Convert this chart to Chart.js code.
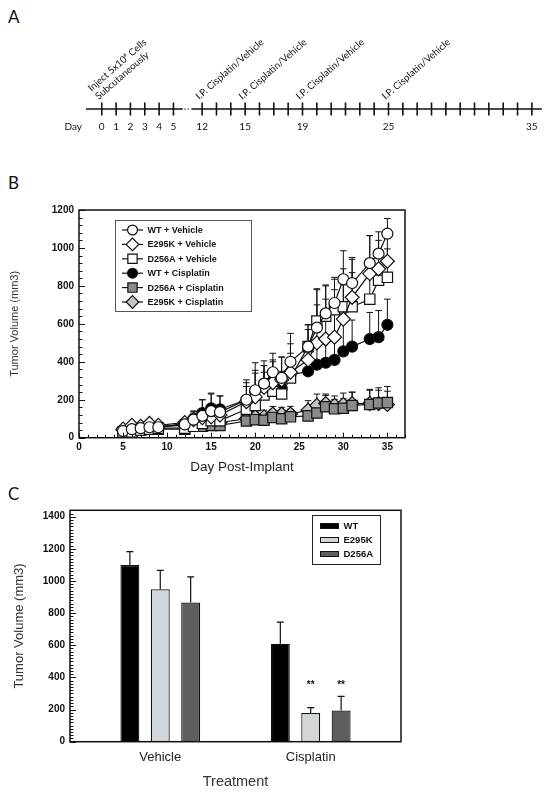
<!DOCTYPE html>
<html>
<head>
<meta charset="utf-8">
<script src="https://cdn.jsdelivr.net/npm/chart.js@4.4.1/dist/chart.umd.min.js"></script>
<style>
  html, body { margin: 0; padding: 0; background: #fff; }
  #page { position: relative; width: 550px; height: 793px; overflow: hidden; }
  .letter { position: absolute; font-family: Lato, sans-serif; font-size: 17px; line-height: 17px; color: #111; }
  canvas { position: absolute; }
</style>
</head>
<body>
<div id="page">
  <div class="letter" style="left:8px;top:8px">A</div>
  <canvas id="chartA" width="550" height="150" style="left:0;top:0"></canvas>
  <div class="letter" style="left:8px;top:174px">B</div>
  <canvas id="chartB" width="420" height="320" style="left:0;top:170px"></canvas>
  <div class="letter" style="left:8px;top:485px">C</div>
  <canvas id="chartC" width="430" height="298" style="left:0;top:495px"></canvas>
</div>
<script>
// ---- panel A: schedule ----
const timelineDays = [0, 1, 2, 3, 4, 5, 12, 13, 14, 15, 16, 17, 18, 19, 20, 21, 22, 23, 24, 25,
  26, 27, 28, 29, 30, 31, 32, 33, 34, 35];
const labeledDays = [0, 1, 2, 3, 4, 5, 12, 15, 19, 25, 35];
const eventDays = [0, 12, 15, 19, 25];
const eventText = [
  ['Inject 5x10⁶ Cells', 'Subcutaneously'],
  ['I.P. Cisplatin/Vehicle'],
  ['I.P. Cisplatin/Vehicle'],
  ['I.P. Cisplatin/Vehicle'],
  ['I.P. Cisplatin/Vehicle']
];

// ---- panel B: growth curves ----
const days = [5, 6, 7, 8, 9, 12, 13, 14, 15, 16, 19, 20, 21, 22, 23, 24, 26, 27, 28, 29, 30, 31, 33, 34, 35];
const wtVehicle = [35, 45, 50, 55, 55, 70, 95, 115, 140, 135, 200, 250, 285, 345, 315, 400, 480, 580, 655, 710, 835, 815, 920, 970, 1075];
const wtVehicleErr = [10, 10, 10, 10, 10, 30, 45, 85, 95, 85, 105, 145, 120, 100, 110, 150, 115, 200, 150, 125, 150, 135, 145, 115, 80];
const e295kVehicle = [45, 65, 60, 75, 65, 80, 95, 105, 110, 120, 190, 215, 265, 290, 305, 345, 410, 500, 520, 530, 625, 740, 865, 890, 930];
const e295kVehicleErr = [10, 10, 10, 10, 10, 20, 35, 40, 45, 45, 80, 125, 115, 110, 120, 150, 160, 200, 210, 250, 180, 200, 200, 150, 120];
const d256aVehicle = [30, 30, 40, 45, 50, 50, 60, 75, 90, 90, 150, 170, 225, 245, 230, 315, 480, 615, 640, 675, 690, 690, 730, 830, 845];
const d256aVehicleErr = [10, 10, 10, 10, 10, 20, 25, 30, 40, 40, 60, 70, 120, 100, 90, 130, 115, 170, 160, 170, 200, 180, 180, 160, 150];
const wtCisplatin = [35, 45, 50, 50, 55, 75, 100, 130, 155, 150, 200, 245, 280, 300, 260, 330, 350, 385, 395, 410, 455, 480, 520, 530, 595];
const wtCisplatinErr = [10, 10, 10, 10, 10, 25, 40, 70, 75, 70, 90, 110, 100, 110, 90, 80, 110, 130, 140, 120, 200, 140, 140, 140, 135];
const d256aCisplatin = [30, 35, 40, 45, 45, 45, 60, 60, 65, 65, 88, 95, 92, 107, 100, 110, 115, 130, 163, 152, 155, 170, 175, 183, 185];
const d256aCisplatinErr = [10, 10, 10, 10, 10, 15, 15, 20, 20, 20, 30, 40, 35, 40, 35, 40, 40, 50, 60, 50, 50, 70, 80, 80, 85];
const e295kCisplatin = [40, 55, 55, 65, 60, 65, 70, 75, 75, 80, 100, 110, 110, 125, 125, 125, 145, 170, 180, 170, 175, 180, 180, 180, 175];
const e295kCisplatinErr = [10, 10, 10, 10, 10, 15, 15, 20, 20, 20, 30, 30, 35, 40, 35, 40, 50, 60, 50, 50, 60, 60, 70, 70, 70];

// ---- panel C: day 35 volumes ----
const treatments = ['Vehicle', 'Cisplatin'];
const barWT = [1100, 610];
const barWTErr = [83, 134];
const barE295K = [948, 179];
const barE295KErr = [118, 33];
const barD256A = [866, 194];
const barD256AErr = [160, 88];
const sigE295K = ['', '**'];
const sigD256A = ['', '**'];

Chart.defaults.font.family = '"Liberation Sans", Arial, sans-serif';
Chart.defaults.color = '#111';
Chart.defaults.animation = false;

// days 0-5 then break, 12 onward
function dayIndex(d) { return d <= 5 ? d : d - 5; }

const timeline = {
  id: 'timeline',
  beforeDatasetsDraw(chart) {
    const { ctx, chartArea: a, scales: { x } } = chart;
    const y0 = a.bottom;
    ctx.save();
    ctx.strokeStyle = '#111';
    ctx.lineWidth = 1.7;
    ctx.beginPath();
    ctx.moveTo(a.left, y0);
    ctx.lineTo(x.getPixelForValue(5.65), y0);
    ctx.moveTo(x.getPixelForValue(6.25), y0);
    ctx.lineTo(a.right, y0);
    ctx.stroke();
    ctx.fillStyle = '#333';
    [5.8, 6.02].forEach(v => ctx.fillRect(x.getPixelForValue(v) - 0.6, y0 - 0.6, 1.3, 1.3));
    ctx.restore();
  },
  afterDraw(chart) {
    const { ctx, chartArea: a, scales: { x } } = chart;
    ctx.save();
    ctx.fillStyle = '#111';
    ctx.font = '10px Lato';
    ctx.textAlign = 'right';
    ctx.textBaseline = 'middle';
    ctx.fillText('Day', 82, a.bottom + 18);
    ctx.font = '9.7px Lato';
    ctx.textAlign = 'left';
    ctx.textBaseline = 'alphabetic';
    eventDays.forEach((d, i) => {
      const px = x.getPixelForValue(dayIndex(d));
      ctx.save();
      ctx.translate(px - 3, a.bottom - 9);
      ctx.rotate(-41 * Math.PI / 180);
      const lines = eventText[i];
      lines.forEach((t, j) => ctx.fillText(t, 0, -(lines.length - 1 - j) * 11));
      ctx.restore();
    });
    ctx.restore();
  }
};

new Chart(document.getElementById('chartA'), {
  type: 'scatter',
  data: {
    datasets: [{
      data: timelineDays.map(d => ({ x: dayIndex(d), y: 0 })),
      pointStyle: 'line',
      rotation: 90,
      pointRadius: 6.5,
      pointBorderWidth: 1.6,
      pointBorderColor: '#111',
      clip: false
    }]
  },
  options: {
    responsive: false,
    layout: { padding: { left: 86, right: 6, top: 0, bottom: 0 } },
    plugins: { legend: { display: false }, tooltip: { enabled: false } },
    scales: {
      x: {
        type: 'linear', min: -1.1, max: 30.7,
        afterFit: s => { s.height = 41; },
        afterBuildTicks: s => { s.ticks = labeledDays.map(d => ({ value: dayIndex(d) })); },
        grid: { display: false, drawTicks: false },
        border: { display: false },
        ticks: {
          padding: 12, autoSkip: false, maxRotation: 0, color: '#111',
          font: { family: 'Lato', size: 10 },
          callback: v => (v <= 5 ? v : v + 5)
        }
      },
      y: { display: false, min: 0, max: 1 }
    }
  },
  plugins: [timeline]
});

// frame with inward tick marks
const frameTicks = {
  id: 'frameTicks',
  afterDraw(chart, args, opts) {
    const { ctx, chartArea: a, scales: { x, y } } = chart;
    ctx.save();
    ctx.strokeStyle = '#111';
    ctx.lineWidth = 1;
    ctx.beginPath();
    if (opts.xMinor) {
      const n = Math.round((x.max - x.min) / opts.xMinor);
      for (let i = 0; i <= n; i++) {
        const v = x.min + i * opts.xMinor;
        const px = Math.round(x.getPixelForValue(v)) + 0.5;
        const len = (Math.round(v) % opts.xMajor === 0) ? 5 : 3;
        ctx.moveTo(px, a.bottom);
        ctx.lineTo(px, a.bottom - len);
      }
    }
    const m = Math.floor((y.max - y.min) / opts.yMinor);
    for (let i = 0; i <= m; i++) {
      const v = y.min + i * opts.yMinor;
      const py = Math.round(y.getPixelForValue(v)) + 0.5;
      const len = (v % opts.yMajor === 0) ? 6 : 3.5;
      ctx.moveTo(a.left, py);
      ctx.lineTo(a.left + len, py);
    }
    ctx.stroke();
    ctx.lineWidth = 1.5;
    ctx.strokeRect(a.left, a.top, a.right - a.left, a.bottom - a.top);
    ctx.restore();
  }
};

// upward error bars with caps
const errorBars = {
  id: 'errorBars',
  draw(chart, opts) {
    const { ctx, scales: { y } } = chart;
    ctx.save();
    ctx.strokeStyle = '#111';
    ctx.lineWidth = opts.width;
    chart.data.datasets.forEach((ds, di) => {
      const meta = chart.getDatasetMeta(di);
      meta.data.forEach((el, i) => {
        const top = y.getPixelForValue(ds.data[i].y + ds.err[i]);
        ctx.beginPath();
        ctx.moveTo(el.x, el.y);
        ctx.lineTo(el.x, top);
        ctx.moveTo(el.x - opts.cap, top);
        ctx.lineTo(el.x + opts.cap, top);
        ctx.stroke();
        if (ds.sig && ds.sig[i]) {
          ctx.fillStyle = '#111';
          ctx.font = 'bold 10px "Liberation Sans"';
          ctx.textAlign = 'center';
          ctx.textBaseline = 'middle';
          ctx.fillText(ds.sig[i], el.x, y.getPixelForValue(opts.sigAt));
        }
      });
    });
    ctx.restore();
  },
  beforeDatasetsDraw(chart, args, opts) { if (!opts.front) this.draw(chart, opts); },
  afterDatasetsDraw(chart, args, opts) { if (opts.front) this.draw(chart, opts); }
};

const seriesB = [
  { label: 'WT + Vehicle', values: wtVehicle, err: wtVehicleErr, style: 'circle', r: 5.5, fill: '#fff' },
  { label: 'E295K + Vehicle', values: e295kVehicle, err: e295kVehicleErr, style: 'rectRot', r: 7, fill: '#fff' },
  { label: 'D256A + Vehicle', values: d256aVehicle, err: d256aVehicleErr, style: 'rect', r: 7.3, fill: '#fff' },
  { label: 'WT + Cisplatin', values: wtCisplatin, err: wtCisplatinErr, style: 'circle', r: 5.5, fill: '#000' },
  { label: 'D256A + Cisplatin', values: d256aCisplatin, err: d256aCisplatinErr, style: 'rect', r: 7.3, fill: '#8a8a8a' },
  { label: 'E295K + Cisplatin', values: e295kCisplatin, err: e295kCisplatinErr, style: 'rectRot', r: 7, fill: '#c4c4c4' }
];

const legendB = {
  id: 'legendB',
  afterDraw(chart) {
    const { ctx } = chart;
    ctx.save();
    ctx.strokeStyle = '#555';
    ctx.lineWidth = 1;
    ctx.strokeRect(115.5, 50.5, 136, 91);
    ctx.font = 'bold 9px "Liberation Sans"';
    ctx.textBaseline = 'middle';
    chart.data.datasets.forEach((ds, i) => {
      const yy = 60 + i * 14.4;
      ctx.strokeStyle = '#111';
      ctx.lineWidth = 1.2;
      ctx.beginPath();
      ctx.moveTo(122, yy);
      ctx.lineTo(143, yy);
      ctx.stroke();
      ctx.fillStyle = ds.pointBackgroundColor;
      Chart.helpers.drawPoint(ctx, { pointStyle: ds.pointStyle, radius: ds.pointRadius * 0.9, borderWidth: 1.2, rotation: 0 }, 132.5, yy);
      ctx.fillStyle = '#111';
      ctx.fillText(ds.label, 147.5, yy + 0.5);
    });
    ctx.restore();
  }
};

const plainNumber = v => String(v);

new Chart(document.getElementById('chartB'), {
  type: 'scatter',
  data: {
    datasets: seriesB.map(s => ({
      label: s.label,
      data: days.map((d, i) => ({ x: d, y: s.values[i] })),
      err: s.err,
      showLine: true,
      borderColor: '#111',
      borderWidth: 1.2,
      pointStyle: s.style,
      pointRadius: s.r,
      pointBackgroundColor: s.fill,
      pointBorderColor: '#111',
      pointBorderWidth: 1.2,
      clip: false
    }))
  },
  options: {
    responsive: false,
    layout: { padding: { left: 0, right: 15, top: 40, bottom: 0 } },
    plugins: {
      legend: { display: false },
      tooltip: { enabled: false },
      errorBars: { width: 1, cap: 3.3, front: false },
      frameTicks: { xMinor: 1, xMajor: 5, yMinor: 40, yMajor: 200 }
    },
    scales: {
      x: {
        type: 'linear', min: 0, max: 37,
        afterFit: s => { s.height = 52.3; },
        afterBuildTicks: s => { s.ticks = [0, 5, 10, 15, 20, 25, 30, 35].map(v => ({ value: v })); },
        grid: { display: false, drawTicks: false },
        border: { display: false },
        ticks: { padding: 4, maxRotation: 0, autoSkip: false, font: { size: 10, weight: 'bold' }, callback: plainNumber },
        title: { display: true, text: 'Day Post-Implant', color: '#222', font: { size: 13.5 }, padding: { top: 0, bottom: 15 } }
      },
      y: {
        min: 0, max: 1200,
        afterFit: s => { s.width = 79; },
        grid: { display: false, drawTicks: false },
        border: { display: false },
        ticks: { stepSize: 200, padding: 5, font: { size: 10, weight: 'bold' }, callback: plainNumber },
        title: { display: true, text: 'Tumor Volume (mm3)', color: '#333', font: { size: 11 }, padding: { top: 8.4, bottom: 0 } }
      }
    }
  },
  plugins: [errorBars, frameTicks, legendB]
});

// ---- panel C ----
const treatmentPos = [3, 8];
const groupsC = [
  { label: 'WT', values: barWT, err: barWTErr, fill: '#000', sig: null },
  { label: 'E295K', values: barE295K, err: barE295KErr, fill: '#d3d6d9', sig: sigE295K },
  { label: 'D256A', values: barD256A, err: barD256AErr, fill: '#5e5e5e', sig: sigD256A }
];

const legendC = {
  id: 'legendC',
  afterDraw(chart) {
    const { ctx } = chart;
    ctx.save();
    ctx.strokeStyle = '#222';
    ctx.lineWidth = 1;
    ctx.strokeRect(312.5, 20.5, 68, 49);
    ctx.font = 'bold 9.5px "Liberation Sans"';
    ctx.textBaseline = 'middle';
    chart.data.datasets.forEach((ds, i) => {
      const yy = 31 + i * 14;
      ctx.fillStyle = ds.backgroundColor;
      ctx.fillRect(320.5, yy - 2.5, 18, 5);
      ctx.strokeStyle = '#111';
      ctx.strokeRect(320.5, yy - 2.5, 18, 5);
      ctx.fillStyle = '#111';
      ctx.fillText(ds.label, 343.5, yy + 0.5);
    });
    ctx.restore();
  }
};

new Chart(document.getElementById('chartC'), {
  type: 'bar',
  data: {
    datasets: groupsC.map(g => ({
      label: g.label,
      data: treatmentPos.map((p, i) => ({ x: p, y: g.values[i] })),
      err: g.err,
      sig: g.sig,
      backgroundColor: g.fill,
      borderColor: '#111',
      borderWidth: 1.2,
      barPercentage: 0.623,
      categoryPercentage: 0.606
    }))
  },
  options: {
    responsive: false,
    layout: { padding: { left: 0, right: 29, top: 15.3, bottom: 0 } },
    plugins: {
      legend: { display: false },
      tooltip: { enabled: false },
      errorBars: { width: 1.2, cap: 3.5, front: true, sigAt: 352 },
      frameTicks: { yMinor: 20, yMajor: 200 }
    },
    scales: {
      x: {
        type: 'linear', min: 0, max: 11, offset: false,
        afterFit: s => { s.height = 51.3; },
        afterBuildTicks: s => { s.ticks = treatmentPos.map(v => ({ value: v })); },
        grid: { display: false, drawTicks: false, offset: false },
        border: { display: false },
        ticks: { padding: 8, autoSkip: false, maxRotation: 0, color: '#222', font: { size: 13 },
          callback: v => treatments[treatmentPos.indexOf(v)] },
        title: { display: true, text: 'Treatment', color: '#333', font: { size: 14.5 }, padding: { top: 0, bottom: 2.6 } }
      },
      y: {
        min: 0, max: 1440,
        afterFit: s => { s.width = 70; },
        afterBuildTicks: s => { s.ticks = [0, 200, 400, 600, 800, 1000, 1200, 1400].map(v => ({ value: v })); },
        grid: { display: false, drawTicks: false },
        border: { display: false },
        ticks: { padding: 5, font: { size: 10, weight: 'bold' }, callback: plainNumber },
        title: { display: true, text: 'Tumor Volume (mm3)', color: '#333', font: { size: 13 }, padding: { top: 12, bottom: 0 } }
      }
    }
  },
  plugins: [errorBars, frameTicks, legendC]
});
</script>
</body>
</html>
